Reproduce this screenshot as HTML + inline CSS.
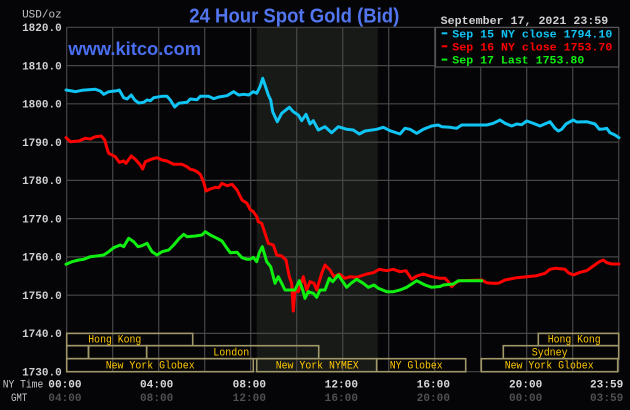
<!DOCTYPE html>
<html><head><meta charset="utf-8"><style>
html,body{margin:0;padding:0;background:#050508;}
svg{display:block;}
</style></head><body>
<svg width="630" height="410" viewBox="0 0 630 410" xmlns="http://www.w3.org/2000/svg">
<rect x="0" y="0" width="630" height="410" fill="#050508"/>
<!-- shaded NYMEX session -->
<rect x="256.7" y="27.3" width="121" height="344.4" fill="#181a18"/>
<!-- grid -->
<g stroke="#474747" stroke-width="1.2" fill="none">
<line x1="66.7" y1="27.3" x2="618.7" y2="27.3"/>
<line x1="66.7" y1="65.6" x2="618.7" y2="65.6"/>
<line x1="66.7" y1="103.8" x2="618.7" y2="103.8"/>
<line x1="66.7" y1="142.1" x2="618.7" y2="142.1"/>
<line x1="66.7" y1="180.4" x2="618.7" y2="180.4"/>
<line x1="66.7" y1="218.6" x2="618.7" y2="218.6"/>
<line x1="66.7" y1="256.9" x2="618.7" y2="256.9"/>
<line x1="66.7" y1="295.2" x2="618.7" y2="295.2"/>
<line x1="66.7" y1="333.4" x2="618.7" y2="333.4"/>
<line x1="66.7" y1="371.7" x2="618.7" y2="371.7"/>
<line x1="66.7" y1="27.3" x2="66.7" y2="371.7"/>
<line x1="112.7" y1="27.3" x2="112.7" y2="371.7"/>
<line x1="158.7" y1="27.3" x2="158.7" y2="371.7"/>
<line x1="204.7" y1="27.3" x2="204.7" y2="371.7"/>
<line x1="250.7" y1="27.3" x2="250.7" y2="371.7"/>
<line x1="296.7" y1="27.3" x2="296.7" y2="371.7"/>
<line x1="342.7" y1="27.3" x2="342.7" y2="371.7"/>
<line x1="388.7" y1="27.3" x2="388.7" y2="371.7"/>
<line x1="434.7" y1="27.3" x2="434.7" y2="371.7"/>
<line x1="480.7" y1="27.3" x2="480.7" y2="371.7"/>
<line x1="526.7" y1="27.3" x2="526.7" y2="371.7"/>
<line x1="572.7" y1="27.3" x2="572.7" y2="371.7"/>
<line x1="618.7" y1="27.3" x2="618.7" y2="371.7"/>
</g>
<!-- session boxes -->
<g stroke="#a09868" stroke-width="1.6" fill="none">
<rect x="66.7" y="333.4" width="126" height="12.3"/>
<rect x="538.3" y="333.4" width="80.4" height="12.3"/>
<rect x="66.7" y="345.7" width="21.8" height="13"/>
<rect x="88.5" y="345.7" width="58.2" height="13"/>
<rect x="146.7" y="345.7" width="172" height="13"/>
<rect x="503.3" y="345.7" width="115.4" height="13"/>
<rect x="66.7" y="358.7" width="186.6" height="13"/>
<rect x="256.7" y="358.7" width="120" height="13"/>
<rect x="376.7" y="358.7" width="89" height="13"/>
<rect x="481.3" y="358.7" width="136.4" height="13"/>
</g>
<g font-family="Liberation Mono, monospace" font-size="11" fill="#ffc800">
<text x="88.3" y="342.7" textLength="53" lengthAdjust="spacingAndGlyphs">Hong Kong</text>
<text x="213.3" y="355.7" textLength="36" lengthAdjust="spacingAndGlyphs">London</text>
<text x="105.7" y="368.7" textLength="89" lengthAdjust="spacingAndGlyphs">New York Globex</text>
<text x="275.7" y="368.7" textLength="83" lengthAdjust="spacingAndGlyphs">New York NYMEX</text>
<text x="389.7" y="368.7" textLength="53" lengthAdjust="spacingAndGlyphs">NY Globex</text>
<text x="547.7" y="342.7" textLength="53" lengthAdjust="spacingAndGlyphs">Hong Kong</text>
<text x="531.7" y="355.7" textLength="36" lengthAdjust="spacingAndGlyphs">Sydney</text>
<text x="504.7" y="368.7" textLength="89" lengthAdjust="spacingAndGlyphs">New York Globex</text>
</g>
<!-- series -->
<g fill="none" stroke-width="3" stroke-linejoin="round" stroke-linecap="round">
<polyline stroke="#10c4f4" points="66,90 72,91 75.3,91.7 82,90.3 95.3,89.3 100.3,91 103.7,94.3 108.7,91.7 117,90.7 119.3,90 123.7,97.7 127,99 131.3,95 134.7,100 138.7,103 143.7,102.3 147,100 150.3,100.7 153.7,97.7 162,96.3 167,96.3 170.3,100 174.7,107 178.7,103.3 187,102.3 190.3,99 197,99.7 200.3,96.3 208.7,96.3 213.7,98.7 218.7,97 227,95.7 233.7,91.7 238.7,95 243.7,94.3 248.7,95 253.3,91.7 256.7,93.3 260,86.7 262.7,78.3 265,85 268.3,95 270.7,100 272.7,111.7 277.3,121.7 281.7,113.3 289.3,107.3 293.3,111.7 298.3,115 301.7,120.7 306,114.3 310,124 313.3,120.7 318.3,130 325,126.7 331.7,132.7 338.3,126.7 346.7,129.3 353.3,130 359.3,134 365,131 376.7,129.3 383.3,127.3 390,130.7 400,134 405,128.3 410,129.3 416.7,133.3 423.3,129.3 431.7,126 438.3,125 441.7,126.7 450,127.3 456.7,128.3 461.7,125 486.7,125 493.3,123.3 500,120 505,123.3 511.7,126 516.7,124 521.7,124.7 526.7,121 533.3,123.3 540,126 550,121.7 555,128.3 558.3,131 561.7,129.3 566,124 573.3,120 576.7,122 586.7,121.7 595,124 599.3,129.3 603.3,129 606.7,128.3 610,132.7 615,135 619,137.7"/>
<polyline stroke="#ff0000" points="66,137.7 70.3,141.7 78.7,141 85.3,138.3 90.3,139 95.3,136.7 101.3,136 104.7,140 107,148.3 108.7,153.3 115.3,156.7 119.3,162.3 123.7,161 126,163.3 131.3,156 136,160 140.3,165 142.7,169 145.3,161.7 152,159 157,157.7 162,160 167,161 173.7,164.3 182,164.3 187,166.7 190.3,169.3 193.7,170 197,171.7 200.3,174.3 203.7,182.3 206,191 210.3,189 215.3,187.3 218.7,187.7 222,183.3 227,185.7 232,184.3 237,190 242,200 247,203.3 250,209.3 253.3,211.7 257,217 258.3,221.7 261.7,223.3 265,233.3 268.3,243.3 273.3,245 276.7,255 281.7,256 286,260 289.3,276.7 291.7,283.3 293.3,311 295,290 298.3,291.7 303.3,276.7 306.7,290 310,281.7 314,283.3 316.7,290 321.7,273.3 325,265 330,270 334,276.7 339.3,274 345,278.3 350,276.7 356.7,277.3 366.7,274 373.3,272.7 379.3,269.3 386.7,270.7 393.3,269.3 400,271.7 406,270.7 411.7,279.3 416.7,276 423.3,274 431.7,276.7 440,278.3 445,278.3 448.3,281.7 451.7,286.7 456,282.7 460,280.7 481.7,280 486.7,282.7 491.7,283.3 498.3,283.3 505,280 516.7,277.7 526.7,276.7 536.7,275.7 545,273.3 550,269.3 555,268.3 565,269.3 568.3,272.7 573.3,275 580,272.3 586.7,270.7 593.3,266 599.3,261.7 603.3,260 606.7,262.7 611.7,264 619,264"/>
<polyline stroke="#10f010" points="66,264.3 72,261.7 78.7,260 83.7,259.3 90.3,256.7 98.7,255.7 103.7,255 108.7,251.7 113.7,247.7 120.3,245 123.7,246.7 128.7,238.3 133.7,241.7 138,246.7 142,245.7 147,243.3 152,251.7 157,255 162,251.7 168.7,250 173.7,245 178.7,239 183.7,234.3 187,236.7 195.3,236 202,235 205.3,231.7 210.3,235 217,238.3 222,241 227,248.3 230.3,252.7 237,252.3 242,257.7 247,259.3 250,259.3 253.3,257.3 256.7,261.7 259.3,252.7 262.3,246.7 266.7,261.7 270.7,266.7 275,283.3 278.3,276.7 281.7,283.3 285,290 290,290 295,290 299.3,280.7 302.7,290 305,298.3 308.3,291.7 313.3,293.3 316.7,297.3 320,290 325,290 329.3,278.3 332.7,281.7 338.3,275 341.7,280 346.7,287.3 351.7,282.7 356.7,279.3 363.3,283.3 368.3,287.3 374,285 378.3,288.3 386.7,291.7 393.3,291.7 400,290 406.7,287.3 416.7,280.7 425,285 431.7,287.3 440,286.5 443.3,285 453.3,284 458.3,280.7 481.7,280.7"/>
</g>
<!-- legend -->
<rect x="435.5" y="27.5" width="183.2" height="39.5" fill="#050508" stroke="#555" stroke-width="1.2"/>
<g font-family="Liberation Mono, monospace" font-size="11" font-weight="bold">
<rect x="441.7" y="32.3" width="5.6" height="2" fill="#10c4f4"/>
<text x="452.3" y="37.6" fill="#10c4f4" textLength="160" lengthAdjust="spacingAndGlyphs">Sep 15 NY close 1794.10</text>
<rect x="441.7" y="45.3" width="5.6" height="2" fill="#ff0000"/>
<text x="452.3" y="50.4" fill="#ff0000" textLength="160" lengthAdjust="spacingAndGlyphs">Sep 16 NY close 1753.70</text>
<rect x="441.7" y="58.6" width="5.6" height="2" fill="#10f010"/>
<text x="452.3" y="63.4" fill="#10f010" textLength="132" lengthAdjust="spacingAndGlyphs">Sep 17 Last 1753.80</text>
<text x="440.7" y="24" fill="#d0d0d0" textLength="167.6" lengthAdjust="spacingAndGlyphs">September 17, 2021 23:59</text>
</g>
<!-- title / watermark -->
<text x="189.3" y="22.3" font-family="Liberation Sans, Arial, sans-serif" font-size="20" font-weight="bold" fill="#5276f0" textLength="210" lengthAdjust="spacingAndGlyphs">24 Hour Spot Gold (Bid)</text>
<text x="68.3" y="55" font-family="Liberation Sans, Arial, sans-serif" font-size="18" font-weight="bold" fill="#4a6ef0" textLength="132.7" lengthAdjust="spacingAndGlyphs">www.kitco.com</text>
<!-- y axis labels -->
<g font-family="Liberation Mono, monospace" font-size="11" font-weight="bold" fill="#d0d0d0" text-anchor="end">
<text x="61.7" y="17.3" font-weight="normal" fill="#c4c4c4">USD/oz</text>
<text x="61.7" y="31">1820.0</text>
<text x="61.7" y="69.3">1810.0</text>
<text x="61.7" y="107.5">1800.0</text>
<text x="61.7" y="145.8">1790.0</text>
<text x="61.7" y="184.1">1780.0</text>
<text x="61.7" y="222.3">1770.0</text>
<text x="61.7" y="260.6">1760.0</text>
<text x="61.7" y="298.9">1750.0</text>
<text x="61.7" y="337.1">1740.0</text>
<text x="61.7" y="375.4">1730.0</text>
</g>
<!-- x axis labels -->
<g font-family="Liberation Mono, monospace" font-size="11">
<text x="2.7" y="387.3" fill="#c8c8c8" textLength="40.6" lengthAdjust="spacingAndGlyphs">NY Time</text>
<text x="11" y="401" fill="#c8c8c8" textLength="16.3" lengthAdjust="spacingAndGlyphs">GMT</text>
</g>
<g font-family="Liberation Mono, monospace" font-size="11" font-weight="bold" fill="#d8d8d8">
<text x="48.3" y="387.3" textLength="33.3" lengthAdjust="spacingAndGlyphs">00:00</text>
<text x="140" y="387.3" textLength="33.3" lengthAdjust="spacingAndGlyphs">04:00</text>
<text x="232.7" y="387.3" textLength="33.3" lengthAdjust="spacingAndGlyphs">08:00</text>
<text x="324.7" y="387.3" textLength="33.3" lengthAdjust="spacingAndGlyphs">12:00</text>
<text x="416.7" y="387.3" textLength="33.3" lengthAdjust="spacingAndGlyphs">16:00</text>
<text x="509" y="387.3" textLength="33.3" lengthAdjust="spacingAndGlyphs">20:00</text>
<text x="590" y="387.3" textLength="33.3" lengthAdjust="spacingAndGlyphs">23:59</text>
</g>
<g font-family="Liberation Mono, monospace" font-size="11" font-weight="bold" fill="#505050">
<text x="48.3" y="401" textLength="33.3" lengthAdjust="spacingAndGlyphs">04:00</text>
<text x="140" y="401" textLength="33.3" lengthAdjust="spacingAndGlyphs">08:00</text>
<text x="232.7" y="401" textLength="33.3" lengthAdjust="spacingAndGlyphs">12:00</text>
<text x="324.7" y="401" textLength="33.3" lengthAdjust="spacingAndGlyphs">16:00</text>
<text x="416.7" y="401" textLength="33.3" lengthAdjust="spacingAndGlyphs">20:00</text>
<text x="509" y="401" textLength="33.3" lengthAdjust="spacingAndGlyphs">00:00</text>
<text x="590" y="401" textLength="33.3" lengthAdjust="spacingAndGlyphs">03:59</text>
</g>
</svg>
</body></html>
